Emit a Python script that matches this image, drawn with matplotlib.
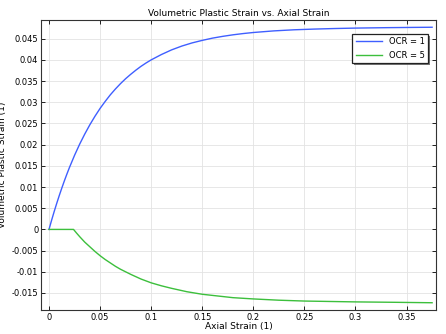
import matplotlib
matplotlib.use("Agg")
import matplotlib.pyplot as plt
import matplotlib.patheffects as pe
from matplotlib.ticker import MultipleLocator, FuncFormatter

# --- Data ---
ocr1_x = [0, 0.0025, 0.005, 0.0075, 0.01, 0.0125, 0.015, 0.0175, 0.02, 0.025, 0.03,
          0.035, 0.04, 0.045, 0.05, 0.055, 0.06, 0.065, 0.07, 0.075, 0.08, 0.085,
          0.09, 0.095, 0.1, 0.11, 0.12, 0.13, 0.14, 0.15, 0.16, 0.17, 0.18, 0.19,
          0.2, 0.22, 0.24, 0.26, 0.28, 0.3, 0.33, 0.36, 0.375]
ocr1_y = [0, 0.00213, 0.00416, 0.0061, 0.00796, 0.00973, 0.01143, 0.01305, 0.0146,
          0.01748, 0.02011, 0.0225, 0.0247, 0.0267, 0.02855, 0.0302, 0.03175, 0.03313,
          0.0344, 0.03556, 0.0366, 0.03757, 0.03847, 0.03927, 0.0400, 0.04126,
          0.04236, 0.04326, 0.0440, 0.0446, 0.04513, 0.04555, 0.04591, 0.04621,
          0.04646, 0.04684, 0.0471, 0.04727, 0.0474, 0.0475, 0.0476, 0.04767, 0.0477]

ocr5_x = [0, 0.024, 0.027, 0.03, 0.035, 0.04, 0.045, 0.05, 0.055, 0.06, 0.065, 0.07,
          0.075, 0.08, 0.09, 0.1, 0.11, 0.12, 0.135, 0.15, 0.165, 0.18, 0.2, 0.225,
          0.25, 0.275, 0.3, 0.34, 0.375]
ocr5_y = [0, 0, -0.00087, -0.0017, -0.0030, -0.0041, -0.0052, -0.0062, -0.0071,
          -0.0079, -0.0087, -0.0094, -0.0100, -0.0106, -0.0117, -0.0126, -0.0133,
          -0.0139, -0.0147, -0.0153, -0.0157, -0.0161, -0.0164, -0.0167, -0.0169,
          -0.0170, -0.0171, -0.0172, -0.0173]

COLOR_OCR1 = "#3f5fff"
COLOR_OCR5 = "#3cbf3c"

fig = plt.figure(figsize=(4.46, 3.34), dpi=100)
ax = fig.add_axes([0.092, 0.072, 0.886, 0.868])

ax.plot(ocr1_x, ocr1_y, color=COLOR_OCR1, lw=1.0, label="OCR = 1")
ax.plot(ocr5_x, ocr5_y, color=COLOR_OCR5, lw=1.0, label="OCR = 5")

ax.set_xlim(-0.0078, 0.379)
ax.set_ylim(-0.019, 0.0494)
ax.xaxis.set_major_locator(MultipleLocator(0.05))
ax.yaxis.set_major_locator(MultipleLocator(0.005))
fmt = FuncFormatter(lambda v, _: "0" if abs(v) < 1e-12 else f"{v:.3f}".rstrip("0"))
ax.xaxis.set_major_formatter(fmt)
ax.yaxis.set_major_formatter(fmt)

ax.tick_params(axis="both", direction="in", labelsize=6, length=3, width=0.6,
               top=True, right=True, pad=2)
ax.grid(color="#e3e3e3", lw=0.6)
ax.set_axisbelow(True)
for s in ax.spines.values():
    s.set_linewidth(0.8)
    s.set_color("#333333")

ax.set_title("Volumetric Plastic Strain vs. Axial Strain", fontsize=6.5, pad=3)
ax.set_xlabel("Axial Strain (1)", fontsize=6.5, labelpad=0)
ax.set_ylabel("Volumetric Plastic Strain (1)", fontsize=6.5, labelpad=3)

leg = ax.legend(loc="upper right", fontsize=6, fancybox=False, framealpha=1,
                edgecolor="#222222", borderpad=0.4, handlelength=3.2,
                bbox_to_anchor=(0.99, 0.966))
frame = leg.get_frame()
frame.set_linewidth(0.9)
frame.set_path_effects([pe.SimplePatchShadow(offset=(1.5, -1.5), shadow_rgbFace="#555555",
                                             alpha=0.8), pe.Normal()])

fig.savefig("out.png", dpi=100)
